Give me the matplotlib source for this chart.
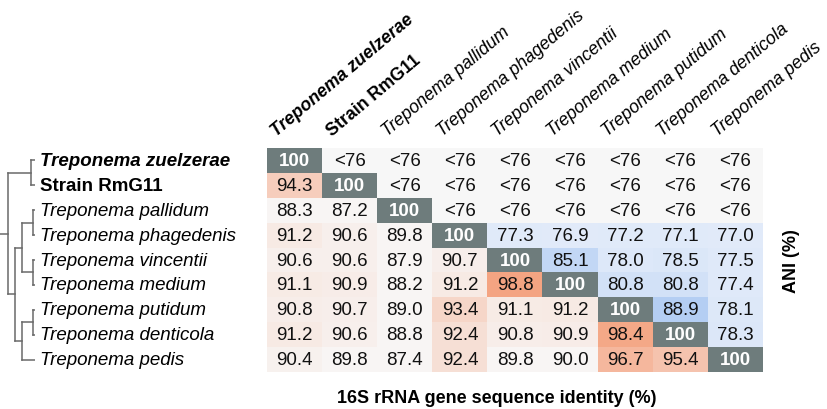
import numpy as np
import matplotlib
matplotlib.use("Agg")
import matplotlib.pyplot as plt
from matplotlib.colors import LinearSegmentedColormap, Normalize
from matplotlib.transforms import blended_transform_factory

plt.rcParams['font.family'] = ['Liberation Sans', 'DejaVu Sans']

# ------ data ------
species = ['Treponema zuelzerae', 'Strain RmG11', 'Treponema pallidum',
           'Treponema phagedenis', 'Treponema vincentii', 'Treponema medium',
           'Treponema putidum', 'Treponema denticola', 'Treponema pedis']
weights = ['bold', 'bold'] + ['normal'] * 7
styles = ['italic', 'normal'] + ['italic'] * 7

# 16S rRNA identity, lower triangle, row by row
s16_rows = [
    [],
    [94.3],
    [88.3, 87.2],
    [91.2, 90.6, 89.8],
    [90.6, 90.6, 87.9, 90.7],
    [91.1, 90.9, 88.2, 91.2, 98.8],
    [90.8, 90.7, 89.0, 93.4, 91.1, 91.2],
    [91.2, 90.6, 88.8, 92.4, 90.8, 90.9, 98.4],
    [90.4, 89.8, 87.4, 92.4, 89.8, 90.0, 96.7, 95.4],
]
# ANI, upper triangle, row by row (None = "<76")
ani_rows = [
    [None] * 8,
    [None] * 7,
    [None] * 6,
    [77.3, 76.9, 77.2, 77.1, 77.0],
    [85.1, 78.0, 78.5, 77.5],
    [80.8, 80.8, 77.4],
    [88.9, 78.1],
    [78.3],
    [],
]

# tree: (node depth, children); leaves are row indices
tree = (0.0, [(0.85, [0, 1]),
              (0.26, [(0.52, [(0.93, [2, 3]), (0.93, [4, 5])]),
                      (0.52, [(0.93, [6, 7]), 8])])])

# ------ colours ------
red = LinearSegmentedColormap.from_list('r', ['#f8f5f4', '#f4a380'])
blue = LinearSegmentedColormap.from_list('b', ['#e5edfa', '#b0ccf3'])
rnorm = Normalize(90, 99, clip=True)
bnorm = Normalize(76, 90)
diag_col = '#6e7c7c'
blank_col = '#f7f7f7'

n = len(species)
rgb = np.zeros((n, n, 3))
texts = {}
for i in range(n):
    for j in range(n):
        if i == j:
            rgb[i, j] = matplotlib.colors.to_rgb(diag_col)
            texts[i, j] = '100'
        elif j < i:
            v = s16_rows[i][j]
            rgb[i, j] = red(rnorm(v))[:3]
            texts[i, j] = '%.1f' % v
        else:
            v = ani_rows[i][j - i - 1]
            if v is None:
                rgb[i, j] = matplotlib.colors.to_rgb(blank_col)
                texts[i, j] = '<76'
            else:
                rgb[i, j] = blue(bnorm(v))[:3]
                texts[i, j] = '%.1f' % v

W, H = 827, 410
fig = plt.figure(figsize=(W / 100, H / 100), dpi=100)
ax = fig.add_axes([267 / W, 1 - 373 / H, 496 / W, 224 / H])
ax.imshow(rgb, aspect='auto', interpolation='nearest')
ax.set_xlim(-0.5, n - 0.5)
ax.set_ylim(n - 0.5, -0.5)
ax.axis('off')

for (i, j), t in texts.items():
    if i == j:
        ax.text(j, i, t, ha='center', va='center', fontsize=13.5,
                fontweight='bold', color='white')
    else:
        ax.text(j, i, t, ha='center', va='center', fontsize=13.5, color='#111111')

# row labels
tr = blended_transform_factory(fig.transFigure, ax.transData)
for i, name in enumerate(species):
    ax.text(40 / W, i, name, transform=tr, ha='left', va='center',
            fontsize=13.5, fontstyle=styles[i], fontweight=weights[i])

# column labels
for j, name in enumerate(species):
    ax.text(j - 0.32, -0.98, name, rotation=40, rotation_mode='anchor',
            ha='left', va='baseline', fontsize=12.8, fontstyle=styles[j],
            fontweight=weights[j], clip_on=False)

fig.text(497 / W, 1 - 399 / H, '16S rRNA gene sequence identity (%)',
         ha='center', va='center', fontsize=13, fontweight='bold')
fig.text(792 / W, 1 - 261 / H, 'ANI (%)', rotation=90,
         ha='center', va='center', fontsize=13, fontweight='bold')

# ------ dendrogram ------
dax = fig.add_axes([0, 1 - 373 / H, 35 / W, 224 / H])
dax.set_xlim(-0.3, 1.0)
dax.set_ylim(n - 0.5, -0.5)
dax.axis('off')
lc = '#6a6a6a'


def draw(node):
    if isinstance(node, int):
        return 1.0, node
    d, kids = node
    pos = [draw(k) for k in kids]
    ys = [p[1] for p in pos]
    dax.plot([d, d], [min(ys), max(ys)], color=lc, lw=1.1)
    for kx, ky in pos:
        dax.plot([d, kx], [ky, ky], color=lc, lw=1.1)
    return d, (min(ys) + max(ys)) / 2


rd, ry = draw(tree)
dax.plot([-0.3, rd], [ry, ry], color=lc, lw=1.1)

fig.savefig('out.png', dpi=100)
